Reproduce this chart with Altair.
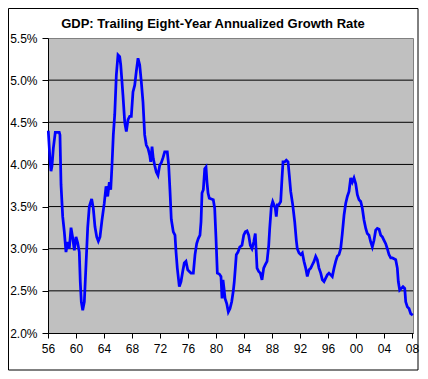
import altair as alt
import pandas as pd

chart_title = "GDP: Trailing Eight-Year Annualized Growth Rate"

years = [
    1956.04, 1956.29, 1956.43, 1956.57, 1956.76, 1957.04, 1957.29, 1957.61, 1957.71, 1957.86,
    1958.10, 1958.33, 1958.57, 1958.81, 1959.04, 1959.29, 1959.53, 1959.76, 1960.00, 1960.24,
    1960.47, 1960.61, 1960.76, 1960.96, 1961.19, 1961.43, 1961.67, 1961.90, 1962.24, 1962.47,
    1962.71, 1962.96, 1963.19, 1963.43, 1963.71, 1964.04, 1964.29, 1964.53, 1964.76, 1964.96,
    1965.14, 1965.33, 1965.53, 1965.76, 1966.00, 1966.24, 1966.39, 1966.57, 1966.71, 1966.96,
    1967.19, 1967.43, 1967.67, 1967.90, 1968.14, 1968.39, 1968.61, 1968.86, 1969.10, 1969.33,
    1969.57, 1969.81, 1970.04, 1970.29, 1970.53, 1970.67, 1970.86, 1971.04, 1971.24, 1971.47,
    1971.71, 1971.96, 1972.19, 1972.43, 1972.67, 1973.04, 1973.24, 1973.43, 1973.61, 1973.90,
    1974.14, 1974.29, 1974.47, 1974.76, 1975.00, 1975.24, 1975.47, 1975.71, 1975.96, 1976.19,
    1976.43, 1976.76, 1977.00, 1977.24, 1977.47, 1977.71, 1977.86, 1978.00, 1978.19, 1978.39,
    1978.57, 1978.71, 1978.86, 1979.04, 1979.33, 1979.61, 1979.81, 1980.00, 1980.19, 1980.47,
    1980.71, 1980.86, 1981.00, 1981.14, 1981.29, 1981.53, 1981.76, 1982.00, 1982.24, 1982.47,
    1982.61, 1982.76, 1982.90, 1983.14, 1983.39, 1983.71, 1983.96, 1984.19, 1984.43, 1984.67,
    1984.90, 1985.14, 1985.39, 1985.61, 1985.86, 1986.10, 1986.33, 1986.57, 1986.81, 1987.04,
    1987.29, 1987.53, 1987.67, 1987.90, 1988.10, 1988.29, 1988.47, 1988.61, 1988.76, 1988.96,
    1989.24, 1989.43, 1989.57, 1989.81, 1990.04, 1990.29, 1990.47, 1990.67, 1990.96, 1991.24,
    1991.47, 1991.61, 1991.86, 1992.10, 1992.33, 1992.57, 1992.81, 1993.04, 1993.29, 1993.53,
    1993.76, 1994.00, 1994.24, 1994.47, 1994.71, 1994.96, 1995.19, 1995.43, 1995.67, 1995.90,
    1996.14, 1996.39, 1996.61, 1996.86, 1997.10, 1997.33, 1997.57, 1997.81, 1998.04, 1998.29,
    1998.53, 1998.76, 1999.00, 1999.24, 1999.47, 1999.71, 1999.96, 2000.19, 2000.43, 2000.67,
    2000.90, 2001.14, 2001.39, 2001.61, 2001.86, 2002.10, 2002.33, 2002.57, 2002.81, 2003.04,
    2003.29, 2003.53, 2003.76, 2004.00, 2004.24, 2004.47, 2004.71, 2004.96, 2005.19, 2005.43,
    2005.67, 2005.90, 2006.04, 2006.24, 2006.47, 2006.71, 2006.96, 2007.10, 2007.33, 2007.57,
    2007.81, 2008.10,
]

growth = [
    4.40, 4.05, 3.92, 3.98, 4.19, 4.38, 4.38, 4.38, 4.35, 3.76,
    3.38, 3.20, 2.96, 3.08, 3.00, 3.25, 3.13, 2.98, 3.14, 3.07,
    2.96, 2.61, 2.37, 2.27, 2.37, 2.81, 3.25, 3.50, 3.59, 3.48,
    3.26, 3.14, 3.09, 3.14, 3.34, 3.54, 3.74, 3.62, 3.79, 3.70,
    3.99, 4.35, 4.59, 5.06, 5.30, 5.28, 5.18, 4.98, 4.82, 4.50,
    4.39, 4.53, 4.57, 4.57, 4.86, 4.94, 5.10, 5.26, 5.18, 4.98,
    4.74, 4.35, 4.23, 4.19, 4.11, 4.03, 4.21, 4.07, 3.99, 3.91,
    3.87, 3.99, 4.02, 4.08, 4.15, 4.15, 3.99, 3.68, 3.35, 3.20,
    3.16, 2.96, 2.77, 2.55, 2.61, 2.73, 2.83, 2.85, 2.75, 2.73,
    2.71, 2.71, 2.93, 3.06, 3.12, 3.16, 3.32, 3.66, 3.70, 3.95,
    3.97, 3.79, 3.66, 3.60, 3.59, 3.58, 3.48, 3.12, 2.71, 2.70,
    2.67, 2.41, 2.63, 2.53, 2.41, 2.35, 2.25, 2.29, 2.37, 2.50,
    2.61, 2.77, 2.93, 2.96, 3.02, 3.04, 3.16, 3.20, 3.21, 3.16,
    3.04, 3.00, 3.08, 3.18, 2.77, 2.73, 2.71, 2.63, 2.77, 2.81,
    2.85, 3.04, 3.24, 3.50, 3.56, 3.52, 3.48, 3.38, 3.52, 3.52,
    3.56, 3.84, 4.03, 4.03, 4.05, 4.03, 3.87, 3.68, 3.52, 3.32,
    3.10, 3.00, 2.95, 2.93, 2.95, 2.85, 2.77, 2.67, 2.75, 2.77,
    2.81, 2.85, 2.91, 2.87, 2.77, 2.71, 2.63, 2.61, 2.65, 2.69,
    2.71, 2.69, 2.67, 2.77, 2.85, 2.91, 2.93, 3.00, 3.18, 3.40,
    3.54, 3.62, 3.68, 3.84, 3.79, 3.84, 3.77, 3.64, 3.58, 3.56,
    3.48, 3.34, 3.24, 3.18, 3.16, 3.08, 3.02, 3.10, 3.22, 3.24,
    3.23, 3.16, 3.14, 3.10, 3.06, 3.00, 2.93, 2.89, 2.89, 2.88,
    2.87, 2.77, 2.61, 2.51, 2.53, 2.55, 2.53, 2.37, 2.31, 2.29,
    2.23, 2.21,
]

x_ticks = [1956, 1960, 1964, 1968, 1972, 1976, 1980, 1984, 1988, 1992, 1996, 2000, 2004, 2008]
y_ticks = [2.0, 2.5, 3.0, 3.5, 4.0, 4.5, 5.0, 5.5]
grid_values = [2.5, 3.0, 3.5, 4.0, 4.5, 5.0]

FONT = "Liberation Sans"

df = pd.DataFrame({"year": years, "growth": growth})
xscale = alt.Scale(domain=[1956, 2008.14], nice=False, zero=False)
yscale = alt.Scale(domain=[2.0, 5.5], nice=False, zero=False)

y_axis = alt.Axis(
    values=y_ticks,
    labelExpr="format(datum.value, '.1f') + '%'",
    title=None,
    grid=False,
    domainColor="black",
    tickColor="black",
    tickSize=6,
    labelPadding=5,
    labelOverlap=False,
)

x_axis = alt.Axis(
    values=x_ticks,
    labelExpr="substring(toString(datum.value), 2, 4)",
    title=None,
    grid=False,
    domainColor="black",
    tickColor="black",
    tickSize=5,
    labelPadding=5,
    labelOverlap=False,
    labelFlush=False,
)

border = alt.Chart(pd.DataFrame({"a": [0]})).mark_rect(
    fillOpacity=0, stroke="black", strokeWidth=1
).encode(
    x=alt.value(-39.5), x2=alt.value(370), y=alt.value(-29.5), y2=alt.value(332)
)

grid = alt.Chart(pd.DataFrame({"g": grid_values})).mark_rule(
    color="black", strokeWidth=1
).encode(y=alt.Y("g:Q", scale=yscale, axis=y_axis))

line = alt.Chart(df).mark_line(color="#0000FF", strokeWidth=2.75).encode(
    x=alt.X("year:Q", scale=xscale, axis=x_axis),
    y=alt.Y("growth:Q", scale=yscale, axis=y_axis),
)

title_text = alt.Chart(pd.DataFrame({"t": [chart_title]})).mark_text(
    font=FONT, fontSize=13, fontWeight="bold", align="center", baseline="middle", color="black"
).encode(text="t:N", x=alt.value(165), y=alt.value(-14))

chart = alt.layer(border, grid, line, title_text).properties(
    width=365,
    height=295,
    padding={"left": 40, "top": 30, "right": 7, "bottom": 38},
    autosize=alt.AutoSizeParams(type="none"),
    background="white",
).configure_view(
    fill="#C0C0C0", stroke="#808080", strokeWidth=1
).configure_axis(
    labelFont=FONT, labelFontSize=12, labelColor="black", domainWidth=1, tickWidth=1
)

chart.save("out.html", embed_options={"renderer": "svg", "actions": False})
